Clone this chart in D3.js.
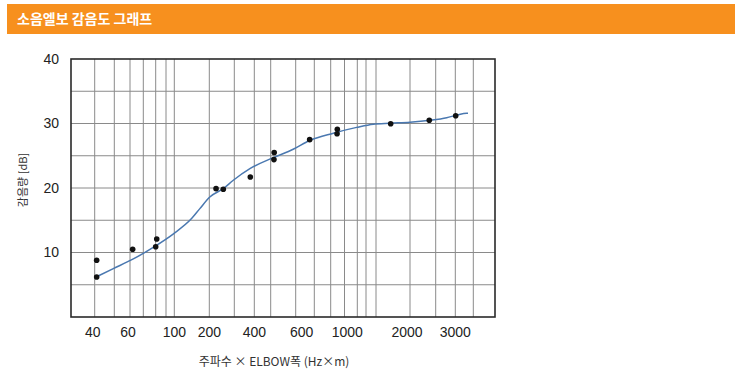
<!DOCTYPE html>
<html>
<head>
<meta charset="utf-8">
<script src="https://cdn.jsdelivr.net/npm/d3@7"></script>
<style>
  body { margin: 0; background: #fff; }
  svg { display: block; }
</style>
</head>
<body>
<svg id="chart" width="742" height="388"></svg>
<script>
// 측정점 (주파수 x 엘보폭, 감음량 dB)
const pointFreq = [41, 41, 62, 80, 81, 227, 256, 380, 514, 513, 675, 848, 846, 1716, 2375, 3022];
const pointDb   = [8.8, 6.2, 10.5, 10.9, 12.1, 19.9, 19.8, 21.7, 25.5, 24.4, 27.5, 29.1, 28.4, 29.95, 30.5, 31.2];

// 곡선
const curveFreq = [42, 49.5, 62.5, 78, 99, 150, 173, 202, 256, 296, 378, 510, 590, 677, 819, 995, 1419, 1706, 2000, 2389, 2781, 3078, 3633, 3706];
const curveDb   = [6.4, 7.5, 9.0, 10.8, 12.9, 15.3, 16.8, 18.6, 19.9, 21.2, 23.0, 24.7, 26.0, 27.4, 28.5, 29.4, 29.9, 30.05, 30.2, 30.5, 30.9, 31.3, 31.6, 31.6];

// 눈금
const gridFreq = [40, 50, 60, 70, 80, 90, 100, 200, 300, 400, 500, 600, 700, 800, 900, 1000, 1200, 1500, 2000, 2500, 3000, 4000];
const xTickLabels = [40, 60, 100, 200, 400, 600, 1000, 2000, 3000];
const yTickLabels = [10, 20, 30, 40];
const yGrid = [5, 10, 15, 20, 25, 30, 35];

const margin = { top: 59, left: 71, right: 247, bottom: 71 };
const width = 742 - margin.left - margin.right;
const height = 388 - margin.top - margin.bottom;

// 원본 그래프 눈금 간격이 일정하지 않아서 구간별 선형 스케일 사용
const knotPx = [0, 23.7, 43.3, 59, 72.3, 84.7, 95, 103.3, 138.3, 163.3, 183.3, 199.7, 224.7, 243.3, 259.7, 273.5, 286.3, 295, 305, 339, 364.7, 384.3, 402.3, width];
const x = d3.scaleLinear()
  .domain([30].concat(gridFreq, [5000]))
  .range(knotPx);
const y = d3.scaleLinear().domain([0, 40]).range([height, 0]);
const labelNudge = { 600: 6, 1000: -10, 2000: -3, 40: -2, 60: -2 };

const svg = d3.select("#chart");

// 제목 바
svg.append("rect")
  .attr("x", 7).attr("y", 4)
  .attr("width", 728).attr("height", 30)
  .attr("fill", "#f7901e");
svg.append("text")
  .attr("x", 17).attr("y", 24)
  .attr("fill", "#fff")
  .attr("font-family", "'Noto Sans CJK KR', sans-serif")
  .attr("font-size", 14)
  .attr("font-weight", "bold")
  .text("소음엘보 감음도 그래프");

const chart = svg.append("g").attr("transform", `translate(${margin.left},${margin.top})`);

// 그리드
chart.selectAll(".vgrid")
  .data(gridFreq)
  .enter().append("line")
  .attr("class", "vgrid")
  .attr("x1", d => x(d)).attr("x2", d => x(d))
  .attr("y1", 0).attr("y2", height)
  .attr("stroke", "#8a8a8a")
  .attr("stroke-width", 1);

chart.selectAll(".hgrid")
  .data(yGrid)
  .enter().append("line")
  .attr("class", "hgrid")
  .attr("x1", 0).attr("x2", width)
  .attr("y1", d => y(d)).attr("y2", d => y(d))
  .attr("stroke", "#8a8a8a")
  .attr("stroke-width", 1);

// 테두리
chart.append("rect")
  .attr("width", width).attr("height", height)
  .attr("fill", "none")
  .attr("stroke", "#2a2a2a")
  .attr("stroke-width", 1.6);

// 축
const yAxis = chart.append("g")
  .call(d3.axisLeft(y).tickValues(yTickLabels).tickSize(0).tickPadding(12));
yAxis.select(".domain").remove();
yAxis.selectAll("text")
  .attr("font-family", "'Liberation Sans', Arial, sans-serif")
  .attr("font-size", 14)
  .attr("fill", "#222");

const xAxis = chart.append("g")
  .attr("transform", `translate(0,${height})`)
  .call(d3.axisBottom(x).tickValues(xTickLabels).tickSize(0).tickPadding(10).tickFormat(d => d));
xAxis.select(".domain").remove();
xAxis.selectAll(".tick")
  .attr("transform", d => `translate(${x(d) + (labelNudge[d] || 0)},0)`);
xAxis.selectAll("text")
  .attr("font-family", "'Liberation Sans', Arial, sans-serif")
  .attr("font-size", 14)
  .attr("fill", "#222");

// 축 제목
svg.append("text")
  .attr("transform", "translate(27,180) rotate(-90)")
  .attr("text-anchor", "middle")
  .attr("font-family", "'Noto Sans CJK KR', sans-serif")
  .attr("font-size", 11)
  .attr("fill", "#333")
  .text("감음량 [dB]");

svg.append("text")
  .attr("x", 274).attr("y", 366)
  .attr("text-anchor", "middle")
  .attr("font-family", "'Noto Sans CJK KR', sans-serif")
  .attr("font-size", 12)
  .attr("fill", "#333")
  .text("주파수 × ELBOW폭 (Hz×m)");

// 곡선
const line = d3.line()
  .x(d => x(d[0]))
  .y(d => y(d[1]))
  .curve(d3.curveMonotoneX);

chart.append("path")
  .datum(curveFreq.map((f, i) => [f, curveDb[i]]))
  .attr("fill", "none")
  .attr("stroke", "#4a78b0")
  .attr("stroke-width", 1.5)
  .attr("d", line);

// 점
chart.selectAll(".point")
  .data(pointFreq.map((f, i) => [f, pointDb[i]]))
  .enter().append("circle")
  .attr("class", "point")
  .attr("cx", d => x(d[0]))
  .attr("cy", d => y(d[1]))
  .attr("r", 2.8)
  .attr("fill", "#111");
</script>
</body>
</html>
